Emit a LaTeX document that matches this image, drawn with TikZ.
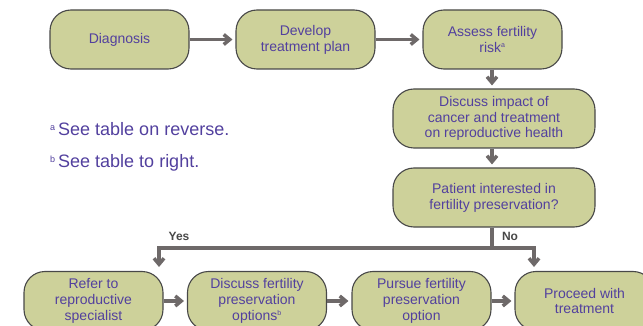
\documentclass[tikz,border=0pt]{standalone}
\usepackage{fontspec}
\setmainfont{Liberation Sans}
\usepackage{tikz}
\usetikzlibrary{calc,arrows.meta}
\usetikzlibrary{positioning}

\definecolor{boxfill}{RGB}{205,209,154}
\definecolor{boxline}{RGB}{72,72,72}
\definecolor{flowgray}{RGB}{110,105,105}
\definecolor{textpurple}{RGB}{82,64,158}

\begin{document}
\begin{tikzpicture}[x=1pt, y=-1pt,
  stage/.style={rectangle, rounded corners=21pt, draw=boxline, line width=1.1pt, fill=boxfill,
    minimum width=139pt, minimum height=59pt, inner sep=0pt, align=center,
    text=textpurple, font=\fontsize{14pt}{15.8pt}\selectfont},
  wide/.style={stage, minimum width=202pt},
  flow/.style={draw=flowgray, line width=3.5pt, shorten >=3pt,
    -{Straight Barb[length=6pt,width=10pt]}},
  branch/.style={draw=flowgray, line width=3.5pt},
  note/.style={text=textpurple, font=\fontsize{18pt}{20pt}\selectfont, anchor=west, inner sep=0pt},
  answer/.style={text=boxline, font=\fontsize{12pt}{14pt}\selectfont\bfseries, inner sep=0pt}
]
\useasboundingbox (0,0) rectangle (643,326);
\clip (0,0) rectangle (643,326);

\node[stage] (diag)  at (119.5, 39.5) {Diagnosis};
\node[stage] (plan)  at (305.5, 39.5) {Develop\\treatment plan};
\node[stage] (risk)  at (492.5, 39.5) {Assess fertility\\risk\textsuperscript{\scriptsize a}};
\node[wide]  (impact)   at (494, 118.5) {Discuss impact of\\cancer and treatment\\on reproductive health};
\node[wide]  (interest) at (494, 197.5) {Patient interested in\\fertility preservation?};

\node[stage] (refer)   at (93.5, 301)  {Refer to\\reproductive\\specialist};
\node[stage] (options) at (257, 301)   {Discuss fertility\\preservation\\options\textsuperscript{\scriptsize b}};
\node[stage] (pursue)  at (421.5, 301) {Pursue fertility\\preservation\\option};
\node[stage] (proceed) at (584.5, 301) {Proceed with\\treatment};

\node[note] (notea) at (50, 129) {\raisebox{5pt}{\fontsize{9pt}{9pt}\selectfont a}\,See table on reverse.};
\node[note] (noteb) at (50, 163) {\raisebox{5pt}{\fontsize{9pt}{9pt}\selectfont b}\,See table to right.};

\coordinate (split)  at (492, 248);
\coordinate (yesend) at (159, 270);
\coordinate (noend)  at (534, 270);
\node[answer] (yes) at (179, 236) {Yes};
\node[answer] (no)  at (510, 236) {No};

% ---- Connectors ----
\draw[flow] (diag) -- (plan);
\draw[flow] (plan) -- (risk);
\draw[flow] (risk.south -| split) -- (impact.north -| split);
\draw[flow] (impact.south -| split) -- (interest.north -| split);
\draw[branch] (interest.south -| split) -- (split);
\draw[flow] (split) -| (yesend);
\draw[flow] (split) -| (noend);
\draw[flow] (refer) -- (options);
\draw[flow] (options) -- (pursue);
\draw[flow] (pursue) -- (proceed);
\end{tikzpicture}
\end{document}
